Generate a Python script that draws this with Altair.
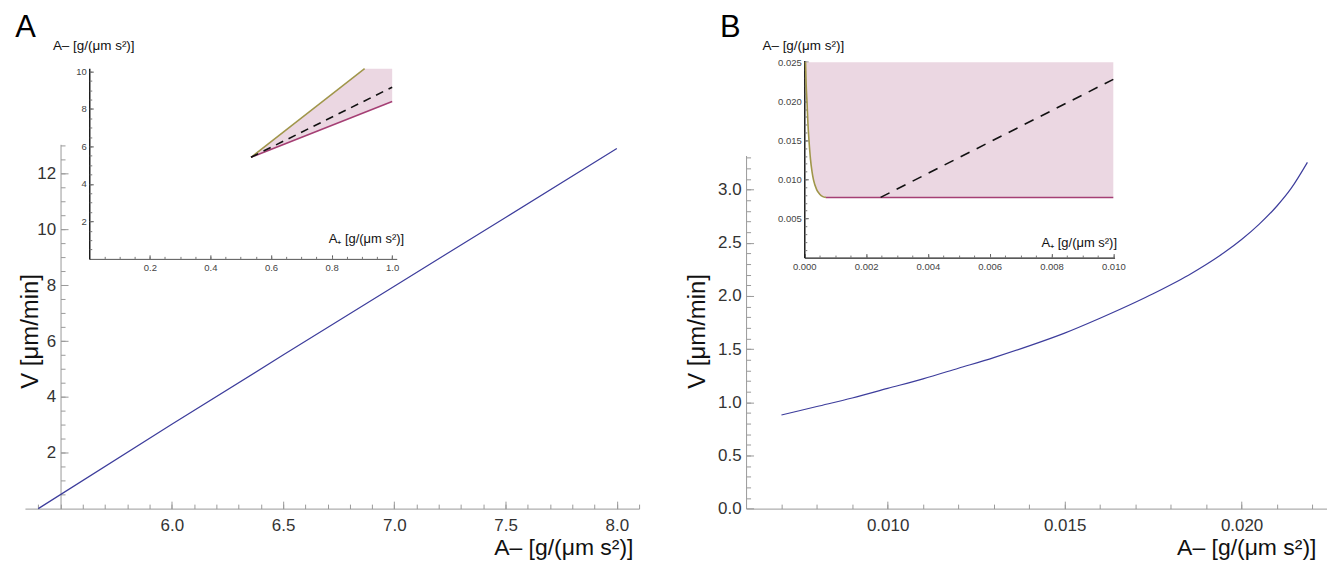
import altair as alt
import pandas as pd

# ---------------- data ----------------
# Panel A, main plot: V vs A-
a_main_x = [5.40, 6.0, 6.5, 7.0, 7.5, 8.0]
a_main_v = [0.0, 3.02, 5.50, 7.97, 10.43, 12.90]

# Panel A, inset: A- vs A+
a_in_olive_x = [0.534, 0.909]
a_in_olive_y = [5.42, 10.15]
a_in_mag_x = [0.534, 1.0]
a_in_mag_y = [5.42, 8.40]
a_in_dash_x = [0.534, 1.0]
a_in_dash_y = [5.42, 9.16]
a_in_fill_x = [0.534, 0.909, 1.0]
a_in_fill_lo = [5.42, 7.82, 8.40]
a_in_fill_hi = [5.42, 10.15, 10.15]

# Panel B, main plot
b_main_x = [0.0070, 0.0080, 0.0090, 0.0100, 0.0110, 0.0120, 0.0130, 0.0140, 0.0150,
            0.0160, 0.0170, 0.0175, 0.0180, 0.0185, 0.0190, 0.0195, 0.0200, 0.0205,
            0.0210, 0.0214, 0.02186]
b_main_v = [0.88, 0.96, 1.04, 1.13, 1.22, 1.32, 1.42, 1.53, 1.65,
            1.79, 1.94, 2.02, 2.105, 2.195, 2.295, 2.405, 2.53, 2.675,
            2.845, 3.01, 3.255]

# Panel B, inset
b_in_olive_x = [0.00004, 0.00006, 0.00009, 0.00012, 0.00015, 0.0002, 0.00025, 0.0003,
                0.0004, 0.0005, 0.0006, 0.0007]
b_in_olive_y = [0.0250, 0.0222, 0.0197, 0.0170, 0.0151, 0.0126, 0.0110, 0.0099,
                0.0087, 0.0081, 0.0078, 0.0077]
b_in_mag_x = [0.0007, 0.010]
b_in_mag_y = [0.0077, 0.0077]
b_in_dash_x = [0.00247, 0.010]
b_in_dash_y = [0.0077, 0.0228]
b_in_fill_x = b_in_olive_x + [0.010]
b_in_fill_lo = b_in_olive_y + [0.0077]
b_in_fill_hi = [0.025] * len(b_in_fill_x)

# tick labels / tick positions
a_main_xlab = [6.0, 6.5, 7.0, 7.5, 8.0]
a_main_xminor = [round(5.4 + 0.1 * i, 2) for i in range(28)]
a_main_ylab = [2, 4, 6, 8, 10, 12]
a_main_yminor = [0.5 * i for i in range(1, 27)]
a_in_xlab = [0.2, 0.4, 0.6, 0.8, 1.0]
a_in_xminor = [round(0.05 * i, 3) for i in range(1, 21)]
a_in_ylab = [2, 4, 6, 8, 10]
a_in_yminor = [0.5 * i for i in range(1, 21)]
b_main_xlab = [0.010, 0.015, 0.020]
b_main_xminor = [round(0.007 + 0.001 * i, 4) for i in range(16)]
b_main_ylab = [0.0, 0.5, 1.0, 1.5, 2.0, 2.5, 3.0]
b_main_yminor = [round(0.1 * i, 2) for i in range(1, 34)]
b_in_xlab = [0.0, 0.002, 0.004, 0.006, 0.008, 0.010]
b_in_xminor = [round(0.0005 * i, 5) for i in range(1, 21)]
b_in_ylab = [0.005, 0.010, 0.015, 0.020, 0.025]
b_in_yminor = [round(0.001 * i, 4) for i in range(1, 26)]

TITLE_X = "A\u2013 [g/(\u03bcm s\u00b2)]"
TITLE_XP = "A\u208a [g/(\u03bcm s\u00b2)]"
TITLE_V = "V [\u03bcm/min]"

# ---------------- layout ----------------
W, H = 1325, 553
FONT = "Liberation Sans"
BLUE = "#3d3d9c"
OLIVE = "#a0964a"
MAG = "#a53f74"
FILL = "#ebd7e2"
AXG = "#9a9a9a"


def xlab_axis(Y, values, fmt, size, pad, title, tx, ty, tsize, dcolor, dwidth=1.0, lcolor="#333"):
    return alt.Axis(orient="bottom", offset=Y - H, values=values, format=fmt,
                    ticks=False, tickSize=0, domain=True, domainColor=dcolor,
                    domainWidth=dwidth, labelFontSize=size, labelColor=lcolor,
                    labelPadding=pad, labelFont=FONT, labelFlush=False,
                    labelOverlap=False, grid=False, title=title, titleX=tx, titleY=ty,
                    titleFontSize=tsize, titleFont=FONT, titleFontWeight="normal",
                    titleColor="#111", titleAlign="center", titleBaseline="middle",
                    titleAngle=0)


def ylab_axis(X, values, fmt, size, pad, title, tx, ty, tsize, dcolor, angle, dwidth=1.0, lcolor="#333"):
    return alt.Axis(orient="left", offset=-X, values=values, format=fmt,
                    ticks=False, tickSize=0, domain=True, domainColor=dcolor,
                    domainWidth=dwidth, labelFontSize=size, labelColor=lcolor,
                    labelPadding=pad, labelFont=FONT, labelFlush=False,
                    labelOverlap=False, grid=False, title=title, titleX=tx, titleY=ty,
                    titleFontSize=tsize, titleFont=FONT, titleFontWeight="normal",
                    titleColor="#111", titleAlign="center", titleBaseline="middle",
                    titleAngle=angle)


def xtick_axis(Y, values, size, color, title="", tx=0, ty=0):
    return alt.Axis(orient="top", offset=-Y, values=values, tickSize=size, tickColor=color,
                    labels=False, domain=False, grid=False, title=title, titleX=tx,
                    titleY=ty, titleFontSize=31, titleFont=FONT, titleFontWeight="normal",
                    titleColor="#000", titleAlign="center", titleBaseline="alphabetic",
                    titleAngle=0)


def ytick_axis(X, values, size, color):
    return alt.Axis(orient="right", offset=X - W, values=values, tickSize=size,
                    tickColor=color, labels=False, domain=False, grid=False, title="")


def line_layer(df, xs, ys, xa, ya, **mk):
    return alt.Chart(df).mark_line(**mk).encode(
        x=alt.X("x:Q", scale=xs, axis=xa), y=alt.Y("y:Q", scale=ys, axis=ya))


# ---------------- Panel A main ----------------
sAx = alt.Scale(domain=[5.34, 8.10], range=[17, 633], nice=False, zero=False)
sAy = alt.Scale(domain=[0, 13.05], range=[501.3, 135.9], nice=False, zero=False)
dfA = pd.DataFrame({"x": a_main_x, "y": a_main_v})
gA = alt.layer(
    line_layer(dfA, sAx, sAy,
               xtick_axis(501.3, a_main_xlab, 7.5, AXG, "A", 17, 28 - 501.3),
               ytick_axis(52.7, a_main_ylab, 7.5, AXG), strokeOpacity=0),
    line_layer(dfA, sAx, sAy, xtick_axis(501.3, a_main_xminor, 4.5, AXG),
               ytick_axis(52.7, a_main_yminor, 4.5, AXG), strokeOpacity=0),
    line_layer(dfA, sAx, sAy,
               xlab_axis(501.3, a_main_xlab, ".1f", 17, 9, TITLE_X, 557, 39.5, 23, AXG),
               ylab_axis(52.7, a_main_ylab, "d", 17, 5, TITLE_V, -29.7, 323, 24, AXG, 270),
               color=BLUE, strokeWidth=1.2),
).resolve_axis(x="independent", y="independent")

# ---------------- Panel A inset ----------------
sAix = alt.Scale(domain=[0, 1.015], range=[81.5, 389.9], nice=False, zero=False)
sAiy = alt.Scale(domain=[0, 10.17], range=[250.8, 59.6], nice=False, zero=False)
dfAf = pd.DataFrame({"x": a_in_fill_x, "y": a_in_fill_lo, "y2": a_in_fill_hi})
dfAo = pd.DataFrame({"x": a_in_olive_x, "y": a_in_olive_y})
dfAm = pd.DataFrame({"x": a_in_mag_x, "y": a_in_mag_y})
dfAd = pd.DataFrame({"x": a_in_dash_x, "y": a_in_dash_y})
gAi = alt.layer(
    alt.Chart(dfAf).mark_area(color=FILL, opacity=1).encode(
        x=alt.X("x:Q", scale=sAix,
                axis=xlab_axis(250.8, a_in_xlab, ".1f", 9.5, 4, TITLE_XP, 359, -20.8, 13, "#555", 1.0, "#444")),
        y=alt.Y("y:Q", scale=sAiy,
                axis=ylab_axis(81.5, a_in_ylab, "d", 9.5, 3, TITLE_X, 4, 37, 13.5, "#111", 0, 1.4, "#444")),
        y2="y2:Q"),
    line_layer(dfAo, sAix, sAiy, xtick_axis(250.8, a_in_xlab, 4, "#555"),
               ytick_axis(81.5, a_in_ylab, 4, "#555"), color=OLIVE, strokeWidth=1.5),
    line_layer(dfAm, sAix, sAiy, xtick_axis(250.8, a_in_xminor, 2.5, "#777"),
               ytick_axis(81.5, a_in_yminor, 2.5, "#777"), color=MAG, strokeWidth=1.5),
    line_layer(dfAd, sAix, sAiy, None, None, color="#111", strokeWidth=1.6, strokeDash=[8, 6]),
).resolve_axis(x="independent", y="independent")

# ---------------- Panel B main ----------------
sBx = alt.Scale(domain=[0.006, 0.0224], range=[740.3, 1322.5], nice=False, zero=False)
sBy = alt.Scale(domain=[0, 3.32], range=[501.3, 147.1], nice=False, zero=False)
dfB = pd.DataFrame({"x": b_main_x, "y": b_main_v})
gB = alt.layer(
    line_layer(dfB, sBx, sBy,
               xtick_axis(501.3, b_main_xlab, 7.5, AXG, "B", 724, 28 - 501.3),
               ytick_axis(740.3, b_main_ylab, 7.5, AXG), strokeOpacity=0),
    line_layer(dfB, sBx, sBy, xtick_axis(501.3, b_main_xminor, 4.5, AXG),
               ytick_axis(740.3, b_main_yminor, 4.5, AXG), strokeOpacity=0),
    line_layer(dfB, sBx, sBy,
               xlab_axis(501.3, b_main_xlab, ".3f", 17, 9, TITLE_X, 1242, 39.5, 23, AXG),
               ylab_axis(740.3, b_main_ylab, ".1f", 17, 5, TITLE_V, -48.3, 323, 24, AXG, 270),
               color=BLUE, strokeWidth=1.2, interpolate="monotone"),
).resolve_axis(x="independent", y="independent")

# ---------------- Panel B inset ----------------
sBix = alt.Scale(domain=[0, 0.01004], range=[798.7, 1109.9], nice=False, zero=False)
sBiy = alt.Scale(domain=[0, 0.0252], range=[249.5, 51.9], nice=False, zero=False)
dfBf = pd.DataFrame({"x": b_in_fill_x, "y": b_in_fill_lo, "y2": b_in_fill_hi})
dfBo = pd.DataFrame({"x": b_in_olive_x, "y": b_in_olive_y})
dfBm = pd.DataFrame({"x": b_in_mag_x, "y": b_in_mag_y})
dfBd = pd.DataFrame({"x": b_in_dash_x, "y": b_in_dash_y})
gBi = alt.layer(
    alt.Chart(dfBf).mark_area(color=FILL, opacity=1, interpolate="monotone").encode(
        x=alt.X("x:Q", scale=sBix,
                axis=xlab_axis(249.5, b_in_xlab, ".3f", 9.5, 4, TITLE_XP, 1074, -15.5, 13, "#222", 1.2, "#444")),
        y=alt.Y("y:Q", scale=sBiy,
                axis=ylab_axis(798.7, b_in_ylab, ".3f", 9.5, 3, TITLE_X, -1.5, 37, 13.5, "#111", 0, 1.4, "#444")),
        y2="y2:Q"),
    line_layer(dfBo, sBix, sBiy, xtick_axis(249.5, b_in_xlab, 4, "#555"),
               ytick_axis(798.7, b_in_ylab, 4, "#555"), color=OLIVE, strokeWidth=1.6,
               interpolate="monotone"),
    line_layer(dfBm, sBix, sBiy, xtick_axis(249.5, b_in_xminor, 2.5, "#777"),
               ytick_axis(798.7, b_in_yminor, 2.5, "#777"), color=MAG, strokeWidth=1.5),
    line_layer(dfBd, sBix, sBiy, None, None, color="#111", strokeWidth=1.6, strokeDash=[10, 8]),
).resolve_axis(x="independent", y="independent")

chart = alt.layer(gA, gAi, gB, gBi).resolve_scale(
    x="independent", y="independent"
).properties(
    width=W, height=H, padding=0, autosize=alt.AutoSizeParams(type="none")
).configure_view(strokeWidth=0).configure_axis(grid=False)

chart.save("out.html", embed_options={"renderer": "svg", "actions": False})
